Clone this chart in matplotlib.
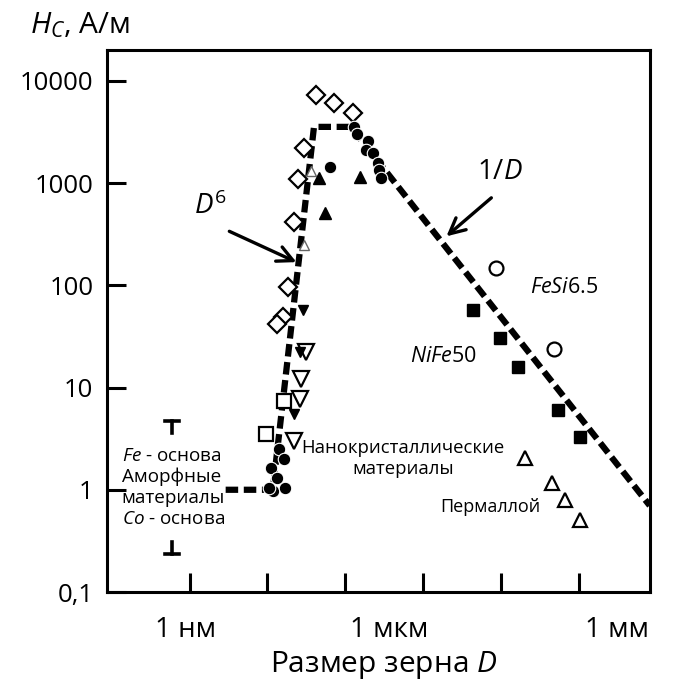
import matplotlib
matplotlib.use("Agg")
import matplotlib.pyplot as plt

plt.rcParams['font.family'] = ['Open Sans', 'DejaVu Sans']
plt.rcParams['mathtext.fontset'] = 'custom'
plt.rcParams['mathtext.rm'] = 'Open Sans'
plt.rcParams['mathtext.it'] = 'Open Sans:italic'

# grain size D in nm, coercivity Hc in A/m
fit_d = [2.9, 11.7, 39.6, 118, 8.2e5]
fit_h = [1.0, 1.0, 3540, 3540, 0.70]

diam_d = [42.1, 71.7, 126, 29.4, 24.6, 21.9, 18.3, 15.8, 13.2]
diam_h = [7290, 6090, 4860, 2200, 1090, 415, 95.5, 48.6, 41.5]

circ_d = [63.7, 130, 142, 197, 185, 230, 265, 275, 290,
          14.0, 16.3, 11.1, 13.2, 11.7, 16.8, 10.4]
circ_h = [1435, 3540, 3020, 2580, 2110, 1950, 1570, 1330, 1110,
          2.52, 2.01, 1.64, 1.31, 0.98, 1.05, 1.05]

tri_d = [45.9, 55, 155]
tri_h = [1120, 508, 1145]
otri_small_d = [36, 29.4]
otri_small_h = [1300, 250]

dtri_d = [28.6, 26.5, 21.9]
dtri_h = [56.9, 22.0, 5.56]
odtri_d = [31.3, 26.9, 26.2, 21.9]
odtri_h = [22.5, 12.0, 7.8, 3.02]

osq_d = [16.3, 9.5]
osq_h = [7.46, 3.54]

nife_d = [4436, 9890, 16370, 53580, 103000]
nife_h = [56.9, 30.2, 15.7, 6.09, 3.31]

fesi_d = [8770, 47640]
fesi_h = [147, 23.6]

perm_d = [20140, 44900, 66000, 103000]
perm_h = [2.06, 1.17, 0.80, 0.51]

yticks = [0.1, 1, 10, 100, 1000, 10000]
ytick_labels = ['0,1', '1', '10', '100', '1000', '10000']
xticks = [1, 10, 100, 1e3, 1e4, 1e5]
xlabels = ['1 нм', '1 мкм', '1 мм']
xlabel_pos = [0.89, 363, 3.1e5]

fig = plt.figure(figsize=(6.83, 6.86), dpi=100)
ax = fig.add_axes([0.157, 0.137, 0.795, 0.79])
ax.set_xscale('log')
ax.set_yscale('log')
ax.set_xlim(10 ** -1.06, 10 ** 5.92)
ax.set_ylim(0.1, 10 ** 4.30)

ax.plot(fit_d, fit_h, color='black', lw=4.5, dashes=(2.0, 0.9),
        solid_capstyle='butt', dash_capstyle='butt', zorder=2)

ms_open = dict(mfc='white', mec='black', mew=1.6, ls='none', zorder=3)
ax.plot(diam_d, diam_h, marker='D', ms=9, **ms_open)
ax.plot(odtri_d, odtri_h, marker='v', ms=11, **ms_open)
ax.plot(osq_d, osq_h, marker='s', ms=10, **ms_open)
ax.plot(fesi_d, fesi_h, marker='o', ms=10, **ms_open)
ax.plot(perm_d, perm_h, marker='^', ms=10, **ms_open)
ax.plot(otri_small_d, otri_small_h, marker='^', ms=7, mfc='white', mec='0.4',
        mew=1.0, ls='none', zorder=3)
ax.plot(circ_d, circ_h, marker='o', ms=9, mfc='black', mec='white',
        mew=0.8, ls='none', zorder=4)
ax.plot(tri_d, tri_h, marker='^', ms=8, color='black', ls='none', zorder=4)
ax.plot(dtri_d, dtri_h, marker='v', ms=7, color='black', ls='none', zorder=4)
ax.plot(nife_d, nife_h, marker='s', ms=9, color='black', ls='none', zorder=4)

# amorphous range markers
ax.plot([0.586, 0.586], [4.75, 3.6], color='black', lw=2.6)
ax.plot([0.48, 0.72], [4.75, 4.75], color='black', lw=2.6)
ax.plot([0.586, 0.586], [0.236, 0.31], color='black', lw=2.6)
ax.plot([0.48, 0.72], [0.236, 0.236], color='black', lw=2.6)

for s in ax.spines.values():
    s.set_linewidth(2.2)
ax.set_yticks(yticks)
ax.set_yticklabels(ytick_labels)
ax.yaxis.set_minor_locator(matplotlib.ticker.NullLocator())
ax.set_xticks(xticks)
ax.set_xticklabels([])
ax.xaxis.set_minor_locator(matplotlib.ticker.NullLocator())
ax.tick_params(direction='in', length=14, width=2.2, labelsize=18.5, pad=10)

for lab, pos in zip(xlabels, xlabel_pos):
    ax.text(pos, -0.07, lab, transform=ax.get_xaxis_transform(),
            ha='center', va='center', fontsize=20)
ax.text(0.51, -0.135, 'Размер зерна $D$', transform=ax.transAxes,
        ha='center', va='center', fontsize=21.5)
fig.text(30 / 683, 1 - 25 / 686, '$H_C$, А/м', ha='left', va='center',
         fontsize=21.5)

arrow = dict(arrowstyle='->', lw=2.4, color='black', mutation_scale=28)
ax.annotate('', xy=(25.4, 164), xytext=(3.0, 346), arrowprops=arrow)
ax.annotate('', xy=(1875, 289), xytext=(8030, 746), arrowprops=arrow)
ax.text(1.87, 582, '$D^{\\mathrm{6}}$', ha='center', va='center', fontsize=20)
ax.text(9600, 1282, '1/$D$', ha='center', va='center', fontsize=20)

ax.text(66000, 95.5, '$FeSi$6.5', ha='center', va='center', fontsize=15.5)
ax.text(1820, 20.1, '$NiFe$50', ha='center', va='center', fontsize=15.5)
ax.text(556, 2.01, 'Нанокристаллические\nматериалы', ha='center',
        va='center', fontsize=13.3, linespacing=1.2)
ax.text(7345, 0.68, 'Пермаллой', ha='center', va='center', fontsize=13)
ax.text(0.133, 1.06, '$Fe$ - основа\nАморфные\nматериалы\n$Co$ - основа',
        ha='left', va='center', fontsize=13.6, linespacing=1.2)

fig.savefig('out.png', dpi=100)
